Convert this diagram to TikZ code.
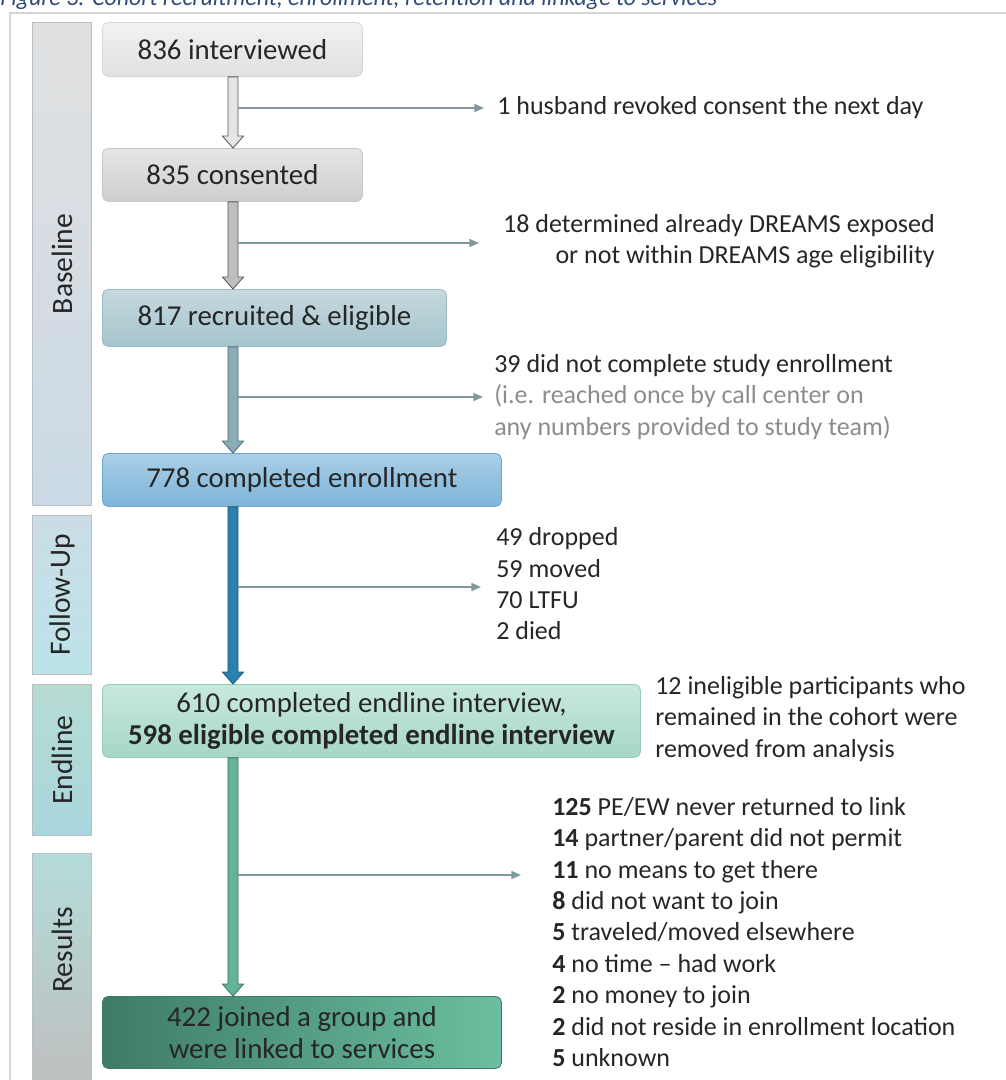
\documentclass[tikz,border=0pt]{standalone}
\usepackage{fontspec}
\setmainfont{Carlito}
\usetikzlibrary{arrows.meta,calc}

\definecolor{framegray}{HTML}{D4D4D4}
\definecolor{barline}{HTML}{B9BEC1}
\definecolor{txt}{HTML}{262626}
\definecolor{notegray}{HTML}{8C8C8C}
\definecolor{sidegray}{HTML}{7F989C}
\definecolor{capblue}{HTML}{2F4B7A}

\newcommand{\blockarrow}[4]{%
  \draw[draw=#4, fill=#3, line width=0.6pt]
    let \p1=(#1.south), \p2=(#2.north), \p3=(spine) in
    (\x3-3.6pt,\y1) -- (\x3-3.6pt,\y2+8.5pt) -- (\x3-7.5pt,\y2+8.5pt) -- (\x3,\y2)
    -- (\x3+7.5pt,\y2+8.5pt) -- (\x3+3.6pt,\y2+8.5pt) -- (\x3+3.6pt,\y1) -- cycle;}

\begin{document}
\begin{tikzpicture}[x=0.25mm,y=-0.25mm,inner sep=0pt,
  box/.style={anchor=north west, rounded corners=4pt, line width=0.6pt,
    align=center, text=txt, font=\fontsize{20.5}{23}\selectfont},
  stagebar/.style={anchor=north west, minimum width=14.75mm, line width=0.6pt, draw=barline},
  stagelabel/.style={rotate=90, text=txt, font=\fontsize{21}{24}\selectfont},
  side/.style={anchor=west, align=left, text=txt, font=\fontsize{18.5}{22.3}\selectfont},
  sidearrow/.style={draw=sidegray, line width=1pt, -{Triangle[length=2.4mm,width=2mm]}}]

\useasboundingbox (0,0) rectangle (1006,1080);
\clip (0,0) rectangle (1006,1080);

% caption, cut off at the top of the page
\node[anchor=base west, text=capblue, font=\fontsize{17}{20}\selectfont\itshape] (caption) at (0,5)
  {Figure 3: Cohort recruitment, enrollment, retention and linkage to services};
\draw[framegray, line width=0.8pt] (10,1090) -- (10,13) -- (1010,13);

% stages
\node[stagebar, minimum height=120.75mm, top color=white!88!black, bottom color={rgb,255:red,203;green,218;blue,230}] (sbase) at (32,22) {};
\node[stagebar, minimum height=39.75mm, top color={rgb,255:red,203;green,221;blue,230}, bottom color={rgb,255:red,188;green,227;blue,234}] (sfollow) at (32,515) {};
\node[stagebar, minimum height=37.75mm, top color={rgb,255:red,182;green,220;blue,211}, bottom color={rgb,255:red,169;green,214;blue,222}] (send) at (32,684) {};
\node[stagebar, minimum height=59.25mm, top color={rgb,255:red,180;green,220;blue,217}, bottom color={rgb,255:red,190;green,190;blue,190}] (sres) at (32,853) {};
\node[stagelabel] (lbase) at (sbase.center) {Baseline};
\node[stagelabel] (lfollow) at (sfollow.center) {Follow-Up};
\node[stagelabel] (lend) at (send.center) {Endline};
\node[stagelabel] (lres) at (62,950) {Results};

% main boxes
\node[box, minimum width=65mm, minimum height=13.5mm, draw=white!84!black,
  top color=white!95!black, bottom color=white!88!black] (b1) at (102,22) {836 interviewed};
\node[box, minimum width=65mm, minimum height=13.25mm, draw=white!78!black,
  top color=white!90!black, bottom color=white!81!black] (b2) at (102,148) {835 consented};
\node[box, minimum width=86mm, minimum height=14.25mm, draw={rgb,255:red,157;green,187;blue,196},
  top color={rgb,255:red,197;green,217;blue,222}, bottom color={rgb,255:red,166;green,196;blue,204}] (b3) at (102,289) {817 recruited \& eligible};
\node[box, minimum width=99.75mm, minimum height=13.25mm, draw={rgb,255:red,111;green,166;blue,203},
  top color={rgb,255:red,169;green,207;blue,232}, bottom color={rgb,255:red,125;green,180;blue,216}] (b4) at (102,453) {778 completed enrollment};
\node[box, minimum width=134.5mm, minimum height=18.25mm, draw={rgb,255:red,152;green,203;blue,184},
  top color={rgb,255:red,200;green,232;blue,222}, bottom color={rgb,255:red,166;green,215;blue,197}] (b5) at (102,684)
  {610 completed endline interview,\\\textbf{598 eligible completed endline interview}};
\node[box, minimum width=99.75mm, minimum height=18mm, draw={rgb,255:red,62;green,123;blue,103},
  left color={rgb,255:red,62;green,123;blue,103}, right color={rgb,255:red,107;green,191;blue,159}] (b6) at (102,996)
  {422 joined a group and\\were linked to services};

% block arrows down the spine
\coordinate (spine) at (233,0);
\blockarrow{b1}{b2}{white!90!black}{white!35!black}
\blockarrow{b2}{b3}{white!75!black}{white!35!black}
\blockarrow{b3}{b4}{{rgb,255:red,139;green,173;blue,183}}{{rgb,255:red,79;green,111;blue,120}}
\blockarrow{b4}{b5}{{rgb,255:red,44;green,128;blue,175}}{{rgb,255:red,30;green,90;blue,126}}
\blockarrow{b5}{b6}{{rgb,255:red,99;green,180;blue,151}}{{rgb,255:red,60;green,117;blue,100}}

% exits
\coordinate (j1) at (238,108); \coordinate (e1) at (484,108);
\coordinate (j2) at (238,243); \coordinate (e2) at (479,243);
\coordinate (j3) at (238,397); \coordinate (e3) at (483,397);
\coordinate (j4) at (238,587); \coordinate (e4) at (481,587);
\coordinate (j5) at (238,875); \coordinate (e5) at (521,875);
\foreach \i in {1,...,5} \draw[sidearrow] (j\i) -- (e\i);

\node[side] (t1) at (497,108) {1 husband revoked consent the next day};
\node[side, anchor=east, align=right] (t2) at (935,241)
  {18 determined already DREAMS exposed\\or not within DREAMS age eligibility};
\node[side] (t3) at (494,397)
  {39 did not complete study enrollment\\\textcolor{notegray}{(i.e. reached once by call center on}\\\textcolor{notegray}{any numbers provided to study team)}};
\node[side] (t4) at (496,584) {49 dropped\\59 moved\\70 LTFU\\2 died};
\node[side] (t6) at (655,719)
  {12 ineligible participants who\\remained in the cohort were\\removed from analysis};
\node[side] (t5) at (552,932)
  {\textbf{125} PE/EW never returned to link\\
   \textbf{14} partner/parent did not permit\\
   \textbf{11} no means to get there\\
   \textbf{8} did not want to join\\
   \textbf{5} traveled/moved elsewhere\\
   \textbf{4} no time -- had work\\
   \textbf{2} no money to join\\
   \textbf{2} did not reside in enrollment location\\
   \textbf{5} unknown};
\end{tikzpicture}
\end{document}
